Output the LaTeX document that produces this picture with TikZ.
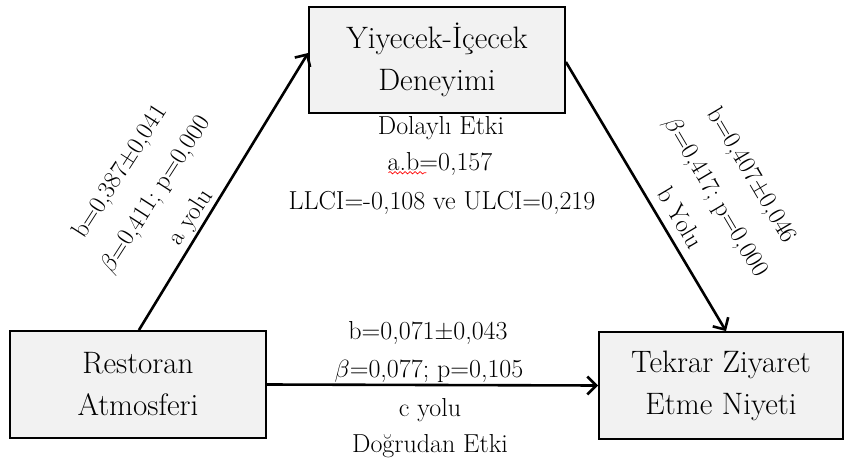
\documentclass[tikz,border=0pt]{standalone}
\usepackage{fontspec}
\usetikzlibrary{arrows.meta,decorations.pathmorphing}
\definecolor{boxfill}{HTML}{F2F2F2}
\tikzset{
  varbox/.style={draw=black, line width=1.8pt, fill=boxfill, align=center,
    inner sep=0pt, font=\fontsize{31}{42}\selectfont},
  lbl/.style={align=center, inner sep=0pt, font=\fontsize{26}{38}\selectfont},
  rlbl/.style={align=center, inner sep=0pt, font=\fontsize{25}{42}\selectfont},
  path/.style={line width=2.6pt, -{Straight Barb[length=9pt,width=18pt,line width=2.6pt]}}
}
\begin{document}
\begin{tikzpicture}[x=1pt,y=-1pt]
\useasboundingbox (0,0) rectangle (845,462);
\node[varbox, minimum width=256pt, minimum height=106pt] (T) at (437,60) {Yiyecek-İçecek\\Deneyimi};
\node[varbox, minimum width=256pt, minimum height=107pt] (L) at (138,384.5) {Restoran\\Atmosferi};
\node[varbox, minimum width=244pt, minimum height=107pt] (R) at (721,385.5) {Tekrar Ziyaret\\Etme Niyeti};

\draw[path] ([xshift=-128pt]L.north east) -- ([yshift=7pt]T.west);
\draw[path] ([yshift=-2pt]T.east) -- ([xshift=5pt]R.north);
\draw[path] (L.east) -- (R.west);

\node[rlbl, rotate=57.2] (la) at (156,195) {b=0,387±0,041\\$\beta$=0,411; p=0,000\\a yolu};
\node[rlbl, rotate=-59.4] (lb) at (717,196) {b=0,407±0,046\\$\beta$=0,417; p=0,000\\b Yolu};

\node[lbl] (d1) at (441,128) {Dolaylı Etki};
\node[lbl] (d2) at (440,164) {a.b=0,157};
\node[lbl] (d3) at (442,203) {LLCI=-0,108 ve ULCI=0,219};
\draw[red, line width=0.7pt, decorate, decoration={snake, amplitude=1.2pt, segment length=5pt}]
  ([xshift=1pt,yshift=3pt]d2.south west) -- ++(38,0);

\node[lbl] (c1) at (428,333) {b=0,071±0,043};
\node[lbl] (c2) at (429,371) {$\beta$=0,077; p=0,105};
\node[lbl] (c3) at (430,410) {c yolu};
\node[lbl] (c4) at (430,446) {Doğrudan Etki};
\end{tikzpicture}
\end{document}
